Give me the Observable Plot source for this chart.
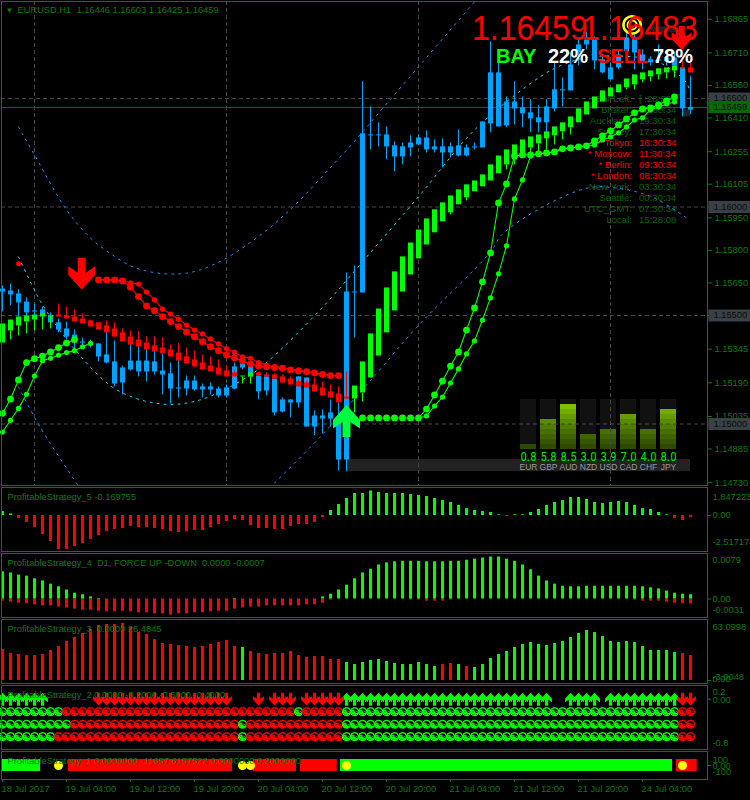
<!DOCTYPE html>
<html><head><meta charset="utf-8">
<script src="https://cdn.jsdelivr.net/npm/d3@7"></script>
<script src="https://cdn.jsdelivr.net/npm/@observablehq/plot@0.6"></script>
<style>
html,body{margin:0;padding:0;background:#000;overflow:hidden}
#root{position:relative;width:750px;height:800px;background:#000;overflow:hidden;font-family:"Liberation Sans",Arial,sans-serif}
#root svg{position:absolute;background:transparent}
.t{position:absolute;white-space:pre;line-height:1}
#clock{position:absolute;left:560px;top:92.5px;width:130px;font-size:9.6px;line-height:11px}
#clock div{display:grid;grid-template-columns:72px 50px;column-gap:7px;height:11px}
#clock span:first-child{text-align:right}
</style></head><body><div id="root"></div>
<script>
// ---------- data: prices in points (1e-5) ----------
const bars = d3.range(87);
const blueOpen=[115622,115613,115599,115562,115521,115526,115498,115466,115438,115410,115378,115373,115369,115318,115286,115258,115290,115290,115290,115286,115244,115231,115166,115198,115198,115171,115171,115161,115166,115263,115281,115272,115221,115217,115207,115111,115111,115217,115212,115037,115037,115051,115032,115608,115608,116337,116332,116332,116332,116282,116277,116295,116318,116318,116277,116277,116277,116282,116272,116277,116392,116618,116618,116484,116484,116457,116434,116411,116461,116540,116540,116655,116747,116779,116775,116678,116641,116701,116779,116779,116701,116678,116678,116687,116687,116641,116459];
const blueClose=[115608,115595,115558,115512,115516,115502,115466,115433,115401,115373,115373,115360,115309,115281,115184,115189,115249,115240,115240,115240,115226,115161,115161,115161,115157,115157,115157,115129,115129,115161,115258,115217,115148,115152,115051,115055,115097,115097,114986,114986,115023,115023,114834,114834,115604,115604,116328,116328,116277,116231,116231,116272,116286,116263,116263,116249,116249,116235,116235,116272,116272,116383,116369,116374,116452,116429,116406,116388,116388,116452,116535,116535,116710,116747,116673,116618,116586,116641,116715,116710,116664,116664,116673,116669,116650,116452,116446];
const blueHigh=[115636,115645,115618,115581,115553,115539,115512,115484,115470,115433,115396,115387,115369,115433,115383,115267,115424,115424,115401,115401,115396,115281,115369,115221,115221,115184,115189,115171,115180,115281,115290,115286,115235,115235,115217,115120,115111,115217,115212,115060,115065,115111,115111,115696,115728,116577,116461,116388,116369,116300,116295,116328,116332,116351,116309,116314,116295,116355,116286,116295,116392,116761,116664,116507,116577,116507,116494,116466,116494,116664,116595,116710,116770,116803,116784,116701,116664,116724,116816,116793,116724,116692,116747,116696,116710,116669,116603];
const blueLow=[115516,115544,115493,115493,115493,115479,115452,115420,115387,115332,115355,115350,115286,115277,115171,115134,115244,115217,115194,115226,115134,115092,115120,115129,115152,115120,115134,115120,115120,115157,115249,115212,115111,115129,115037,115051,115028,115074,114986,114945,114954,114986,114783,114779,115396,115604,116263,116277,116217,116162,116194,116231,116282,116249,116249,116180,116226,116231,116231,116263,116272,116342,116369,116365,116378,116365,116342,116342,116263,116438,116461,116535,116650,116724,116632,116614,116586,116632,116678,116632,116632,116650,116664,116650,116623,116415,116425];

const haTop=[115461,115479,115493,115498,115502,115507,115498,115502,115498,115493,115484,115475,115466,115452,115438,115420,115401,115387,115373,115360,115350,115341,115327,115309,115295,115281,115267,115258,115244,115235,115221,115235,115235,115226,115226,115217,115207,115194,115189,115180,115166,115148,115138,115124,115175,115286,115415,115530,115627,115701,115770,115834,115894,115945,115987,116019,116051,116079,116102,116120,116148,116194,116235,116263,116286,116309,116323,116332,116346,116369,116388,116415,116452,116484,116507,116535,116549,116563,116590,116609,116618,116627,116637,116641,116650,116641,116641];
const haBottom=[115373,115429,115452,115470,115479,115493,115493,115493,115484,115470,115461,115447,115433,115420,115401,115378,115364,115355,115341,115332,115323,115309,115290,115277,115263,115249,115240,115226,115217,115217,115217,115217,115221,115217,115207,115189,115180,115171,115166,115148,115129,115120,115097,115115,115115,115143,115212,115313,115420,115521,115608,115687,115761,115825,115881,115931,115973,116010,116042,116070,116093,116120,116153,116194,116217,116245,116272,116291,116314,116328,116346,116365,116388,116424,116452,116484,116507,116526,116549,116563,116586,116600,116609,116618,116627,116637,116618];
const haWick=[115373,115387,115406,115415,115429,115433,115438,115553,115539,115526,115507,115479,115466,115475,115466,115438,115429,115424,115401,115401,115396,115364,115369,115350,115337,115318,115309,115295,115267,115244,115184,115184,115240,115235,115231,115226,115217,115203,115198,115212,115194,115180,115171,115240,115051,115101,115212,115313,115420,115521,115608,115687,115761,115825,115881,115931,115964,116010,116028,116070,116093,116120,116153,116171,116194,116245,116226,116254,116263,116286,116309,116332,116388,116424,116452,116484,116507,116526,116540,116540,116572,116577,116586,116590,116595,116687,116678];
const haRuns=[[7,"g"],[23,"r"],[2,"g"],[12,"r"],[41,"g"],[2,"r"]];

const redBigStart=12, redBig=[115664,115664,115664,115659,115630,115587,115544,115522,115495,115472,115449,115424,115402,115379,115356,115338,115318,115304,115290,115277,115267,115264,115260,115257,115249,115244,115241,115236,115229,115223,115223];
const redSmallStart=12, redSmall=[115667,115664,115662,115659,115651,115645,115608,115572,115529,115507,115483,115456,115433,115415,115392,115369,115347,115331,115310,115303,115283,115272,115264,115260,115252,115249,115243,115234,115226,115223,115223];
const greenBigLeft=[115049,115115,115203,115283,115301,115313,115332,115352,115373,115389];
const greenSmallLeft=[114963,115017,115072,115137,115221,115292,115303,115317,115329,115338,115356,115372];
const greenBigStart=45, greenBig=[115028,115028,115028,115028,115028,115028,115028,115028,115069,115134,115198,115267,115332,115433,115535,115655,115788,116019,116106,116235,116240,116240,116245,116249,116254,116268,116272,116277,116282,116305,116328,116351,116378,116406,116434,116452,116457,116471,116489,116507];
const greenSmallStart=52, greenSmall=[115028,115037,115083,115124,115189,115254,115323,115383,115479,115581,115692,115821,116037,116125,116235,116245,116249,116254,116268,116272,116277,116282,116286,116309,116323,116342,116369,116401,116411,116448,116461,116475,116484];

const upperBar=[2,4,8,11,13.4,16.3,19.3,22.2,24.7,28,32.6,36.3,41.3,44.7,46.6,52,59];
const upperBand=[116369,116240,115987,115857,115788,115724,115696,115692,115710,115765,115881,116000,116194,116332,116415,116646,116945];
const middleBar=[2,3.8,5,9.3,14.3,20,24.7,30.6,33.1,39.7,46.6,52.4,59,67,70,73.7,81.2,84,85.5,86];
const middleBand=[115770,115632,115549,115332,115157,115092,115111,115217,115286,115526,115816,116065,116355,116595,116655,116692,116678,116623,116572,116526];
const lowerBarA=[2,4.7,9.4], lowerBandA=[115171,114986,114719];
const lowerBarB=[34,39.7,46.6,51.8,61,62.4,67.5,73.2,76.6,81.2,85.5];
const lowerBandB=[114728,114940,115226,115447,115793,115871,116000,116088,116088,116046,115950];

const priceTicks=[1.16865,1.1671,1.1656,1.1641,1.16255,1.16105,1.1595,1.158,1.1565,1.15345,1.1519,1.15035,1.14885,1.1473];
const gridLevels=[1.165,1.16,1.155,1.15];
const gridBars=[4,28,52,76];
const lastPrice=1.16459;
const shadeBarFrom=[81,85.1], shadeBarTo=[84.5,86], shadeTop=[116830,116448], shadeBottom=[116803,116415];

const hist5=[.29,.12,-.22,-.51,-.88,-1.4,-1.91,-2.5,-2.5,-2.28,-2.06,-1.76,-1.47,-1.18,-1.03,-.96,-.81,-.88,-.88,-.96,-1.03,-1.18,-1.25,-1.18,-1.1,-1.1,-.88,-.66,-.44,-.29,-.37,-.74,-.96,-.96,-1.03,-1.03,-.81,-.66,-.66,-.51,-.15,.37,.81,1.25,1.62,1.62,1.8,1.69,1.62,1.62,1.62,1.54,1.47,1.4,1.25,1.1,.96,.74,.51,.37,.29,.22,.05,-.07,.05,.05,.22,.44,.74,.96,1.1,1.32,1.32,1.18,.96,.88,.96,1.03,.96,.74,.51,.44,.22,.05,-.22,-.37,-.17];
const hist4Up=[.0051,.0049,.0045,.0043,.0038,.0034,.0028,.0023,.0017,.0011,.0008,.0004,.0001,0,0,0,0,0,0,0,0,0,0,0,0,0,0,0,0,.0001,0,0,0,0,0,0,0,0,0,0,.0004,.0009,.0017,.0026,.0038,.0049,.0056,.0064,.0068,.007,.0071,.0071,.0071,.007,.007,.007,.0071,.0071,.0073,.0075,.0077,.0079,.0079,.0075,.0071,.0064,.0055,.0043,.0034,.0028,.0024,.0023,.0023,.0024,.0024,.0024,.0024,.0024,.0024,.0024,.0023,.0021,.0019,.0015,.0011,.0009,.0008];
const hist4Down=[-.0004,-.0006,-.0008,-.0009,-.0011,-.0013,-.0013,-.0015,-.0017,-.0019,-.0021,-.0021,-.0023,-.0024,-.0024,-.0023,-.0024,-.0026,-.0026,-.0028,-.0028,-.003,-.0028,-.0028,-.0026,-.0026,-.0024,-.0023,-.0023,-.0019,-.0017,-.0015,-.0015,-.0013,-.0013,-.0013,-.0013,-.0013,-.0011,-.0011,-.0008,-.0002,0,0,0,0,0,0,0,0,0,-.0002,-.0002,-.0004,-.0004,-.0004,-.0002,0,0,0,0,0,0,0,0,0,0,0,0,0,0,0,0,0,0,0,0,0,0,-.0002,-.0004,-.0004,-.0004,-.0006,-.0008,-.0009,-.0009];
const hist3=[34.3,29.8,28.7,27.6,27.6,28.7,33.2,37.6,43.1,47.5,51.9,56.4,60.8,61.9,61.9,63.1,58.6,53,50.8,45.3,40.9,39.8,38.7,37.6,36.5,37.6,39.8,42,44.2,37.6,36.5,32,29.8,28.7,29.8,29.8,32,27.6,25.4,26.5,26.5,23.2,23.2,19.9,17.7,19.9,22.1,23.2,21,18.8,17.7,17.7,19.9,17.7,15.5,17.7,18.8,17.7,15.5,14.4,17.7,24.3,28.7,32,36.5,39.8,42,39.8,38.7,40.9,43.1,47.5,51.9,55.3,53,48.6,43.1,42,43.1,42,37.6,33.2,33.2,33.2,30.9,29.8,27.6];
const hist3Runs=[[30,"r"],[1,"g"],[12,"r"],[12,"g"],[2,"r"],[1,"g"],[1,"r"],[26,"g"],[2,"r"]];

const signalRows=[-.2,-.4,-.6];
const signalRuns=[
  [[8,"g"],[29,"r"],[1,"g"],[5,"r"],[42,"g"],[2,"r"]],
  [[9,"g"],[21,"r"],[1,"g"],[12,"r"],[42,"g"],[2,"r"]],
  [[7,"g"],[23,"r"],[1,"g"],[12,"r"],[42,"g"],[2,"r"]]];
const upRanges=[[0,5],[43,68],[71,74],[76,84]];
const downRanges=[[12,28],[32,32],[34,36],[38,42],[85,86]];

const segStart=[0,8.25,31.375,37.25,42.25,84.25];
const segEnd=[4.75,28.75,36.75,41.84,83.75,86.84];
const segColor=["g","r","r","r","g","r"];
const coinBars=[7,30,31,43,85];

const timeBars=[0,8,16,24,32,40,48,56,64,72,80];
const timeLabels=["18 Jul 2017","19 Jul 04:00","19 Jul 12:00","19 Jul 20:00","20 Jul 04:00","20 Jul 12:00","20 Jul 20:00","21 Jul 04:00","21 Jul 12:00","21 Jul 20:00","24 Jul 04:00"];

const currencies=["EUR","GBP","AUD","NZD","USD","CAD","CHF","JPY"];
const strength=[0.8,5.8,8.5,3.0,3.9,7.0,4.0,8.0];
const levelColors=["#2f4a00","#375600","#3f6300","#477000","#507d00","#5a8c00","#669c00","#72ad00","#80c000","#90d800"];

const clockNames=["Bar Left:","Broker:","Auckland:","Sydney:","* Tokyo:","* Moscow:","* Berlin:","* London:","New York:","Seattle:","UTC_GMT:","Local:"];
const clockTimes=["[ :28:28 ]","10:30:34","19:30:34","17:30:34","16:30:34","11:30:34","09:30:34","08:30:34","03:30:34","00:30:34","07:30:34","15:28:08"];

// ---------- styling ----------
const GREEN="#00ff00", RED="#ff0000", BLUE="#00a2ff", LINE="#0d7a0d", INK="#0c7a0c";
const FONT='"Liberation Sans",Arial,sans-serif';
const hue=c=>c==="g"?GREEN:RED;
const expand=runs=>runs.flatMap(([n,c])=>Array(n).fill(c));
const price=p=>p/1e5;
const root=document.getElementById("root");
const arrowShape=dir=>({draw(ctx,size){
  const r=Math.sqrt(size/Math.PI)/16*dir;
  const pts=[[-4,-16],[4,-16],[4,-1],[13.5,-7.5],[13.5,1],[0,16],[-13.5,1],[-13.5,-7.5],[-4,-1]];
  pts.forEach(([x,y],i)=>i?ctx.lineTo(x*r,y*r):ctx.moveTo(x*r,y*r));
  ctx.closePath();
}});
const DOWN=arrowShape(1), UP=arrowShape(-1);
const series=(start,vals)=>vals.map((v,k)=>({i:start+k,p:price(v)}));
const xy=(xs,vals)=>vals.map((v,k)=>({i:xs[k],p:price(v)}));
const barX={domain:[-0.125,88.125],axis:null};
function place(svg,top,left=0){svg.style.top=top+"px";svg.style.left=left+"px";root.appendChild(svg);return svg;}
function pane(top,height,yDomain,marks,marginBottom=1){
  return place(Plot.plot({width:750,height,marginLeft:1,marginRight:43,marginTop:0,marginBottom,
    x:barX,y:{domain:yDomain,axis:null},color:{type:"identity"},
    style:{fontFamily:FONT,fontSize:"9.3px",background:"transparent"},marks:[...marks,Plot.frame({stroke:LINE})]}),top);
}
const title=(s,dy=9.5)=>Plot.text([s],{text:d=>d,frameAnchor:"top-left",lineAnchor:"middle",dx:6,dy,textAnchor:"start",fill:INK});
const sideLabels=ls=>ls.map(([s,v,dy])=>Plot.text([s],{text:d=>d,y:()=>v,frameAnchor:"right",dx:5,dy,textAnchor:"start",fill:INK}));
const zeroTick=(v=0)=>Plot.axisY([v],{anchor:"right",tickSize:3,tickFormat:()=>"",color:LINE,label:null});
const hist=(vals,colors,w=3)=>Plot.ruleX(vals.map((v,i)=>({i,v,c:colors(i,v)})).filter(d=>d.v!==0),{x:"i",y1:()=>0,y2:"v",stroke:"c",strokeWidth:w});

// ---------- layers below the price chart ----------
function addText(s,css){const d=document.createElement("div");d.className="t";d.textContent=s;Object.assign(d.style,css);root.appendChild(d);return d;}
const clock=document.createElement("div");clock.id="clock";
clockNames.forEach((n,k)=>{
  const r=document.createElement("div");
  r.style.color=n.startsWith("*")?RED:"#0a600a";
  const a=document.createElement("span");a.textContent=n;
  const b=document.createElement("span");b.textContent=clockTimes[k];
  r.append(a,b);clock.appendChild(r);
});
root.appendChild(clock);
addText("",{left:"347px",top:"459px",width:"343px",height:"12px",background:"#222"});

// currency strength widget
const segs=currencies.flatMap((c,k)=>d3.range(Math.round(strength[k])).map(l=>({c,l})));
place(Plot.plot({width:160,height:74,marginLeft:0,marginRight:0,marginTop:0,marginBottom:24,
  x:{domain:currencies,paddingInner:.2,paddingOuter:.1,axis:null},y:{domain:[0,10],axis:null},color:{type:"identity"},
  style:{fontFamily:FONT,background:"transparent"},
  marks:[
    Plot.barY(currencies,{x:d=>d,y1:()=>0,y2:()=>10,fill:"#111"}),
    Plot.barY(segs,{x:"c",y1:"l",y2:d=>d.l+1,fill:d=>levelColors[d.l]}),
    Plot.text(currencies,{x:d=>d,frameAnchor:"bottom",lineAnchor:"middle",dy:7,text:(d,k)=>strength[k].toFixed(1),fill:"#00e000",fontSize:13,fontFamily:'"Liberation Sans Narrow","Roboto Condensed","Liberation Sans"'}),
    Plot.text(currencies,{x:d=>d,frameAnchor:"bottom",lineAnchor:"middle",dy:18,fill:"#9a9a9a",fontSize:8.5})
  ]}),399,518);

// ---------- price chart ----------
const blue=bars.map(i=>({i,o:price(blueOpen[i]),c:price(blueClose[i]),h:price(blueHigh[i]),l:price(blueLow[i])}));
const haC=expand(haRuns);
const ha=bars.map(i=>({i,t:price(haTop[i]),b:price(haBottom[i]),w:price(haWick[i]),c:hue(haC[i])}));
const lineDots=(d,color,r)=>[Plot.line(d,{x:"i",y:"p",stroke:color,strokeWidth:1.1}),Plot.dot(d,{x:"i",y:"p",r,fill:color,stroke:null})];
const band=(d,color)=>Plot.line(d,{x:"i",y:"p",stroke:color,strokeWidth:1,strokeDasharray:"2 5",curve:"catmull-rom",clip:true});

place(Plot.plot({width:750,height:486,marginLeft:1,marginRight:43,marginTop:1,marginBottom:1,
  x:barX,y:{domain:[1.16947,1.147166],range:[1,485],axis:null},color:{type:"identity"},
  style:{fontFamily:FONT,fontSize:"9.3px",background:"transparent"},
  marks:[
    Plot.gridY(gridLevels,{y:d=>d,stroke:"#474747",strokeOpacity:1,strokeDasharray:"4 3"}),
    Plot.gridX(gridBars,{x:d=>d,stroke:"#474747",strokeOpacity:1,strokeDasharray:"4 3"}),
    Plot.ruleY([lastPrice],{stroke:"#0c6e0c"}),
    Plot.rect(shadeBarFrom,{x1:d=>d,x2:(d,k)=>shadeBarTo[k],y1:(d,k)=>price(shadeTop[k]),y2:(d,k)=>price(shadeBottom[k]),fill:"#222"}),
    band(xy(upperBar,upperBand),"#1e90ff"),
    band(xy(middleBar,middleBand),"#22ddff"),
    band(xy(lowerBarA,lowerBandA),"#1e90ff"),
    band(xy(lowerBarB,lowerBandB),"#1e90ff"),
    Plot.ruleX(blue,{x:"i",y1:"l",y2:"h",stroke:BLUE,strokeWidth:1}),
    Plot.ruleX(blue,{x:"i",y1:"o",y2:"c",stroke:BLUE,strokeWidth:5}),
    Plot.ruleX(ha,{x:"i",y1:"b",y2:"w",stroke:"c",strokeWidth:1}),
    Plot.ruleX(ha,{x:"i",y1:"t",y2:"b",stroke:"c",strokeWidth:5}),
    ...lineDots(series(redSmallStart,redSmall),RED,2.6),
    ...lineDots(series(redBigStart,redBig),RED,3.4),
    Plot.dot([{i:2,p:price(115738)}],{x:"i",y:"p",r:2.5,fill:RED,stroke:null}),
    ...lineDots(series(0,greenSmallLeft),GREEN,2.6),
    ...lineDots(series(0,greenBigLeft),GREEN,3.4),
    ...lineDots(series(greenSmallStart,greenSmall),GREEN,2.6),
    ...lineDots(series(greenBigStart,greenBig),GREEN,3.4),
    Plot.dot([{i:9.9,p:price(115692)}],{x:"i",y:"p",r:16,symbol:DOWN,fill:RED,stroke:null}),
    Plot.dot([{i:43,p:price(115014)}],{x:"i",y:"p",r:16,symbol:UP,fill:"#00ff40",stroke:null}),
    Plot.dot([{i:84.9,p:price(116779)}],{x:"i",y:"p",r:12,symbol:DOWN,fill:RED,stroke:null}),
    Plot.dot([{i:78.7,p:price(116839)}],{x:"i",y:"p",r:8.7,stroke:"#ffff00",strokeWidth:2.6,fill:null}),
    Plot.dot([{i:78.7,p:price(116839)}],{x:"i",y:"p",r:4.5,stroke:"#ffff00",strokeWidth:2,fill:null}),
    Plot.axisY(priceTicks,{anchor:"right",tickSize:4,tickPadding:3,tickFormat:d=>d.toFixed(5),color:INK,label:null}),
    Plot.axisY(gridLevels,{anchor:"right",tickSize:4,tickFormat:()=>"",color:LINE,label:null}),
    Plot.ruleY(gridLevels,{y:d=>d,x1:()=>88.3,x2:()=>94,stroke:"#3a4046",strokeWidth:12}),
    Plot.ruleY([lastPrice],{y:d=>d,x1:()=>88.3,x2:()=>94,stroke:"#086808",strokeWidth:11}),
    Plot.text([...gridLevels,lastPrice],{y:d=>d,frameAnchor:"right",dx:6,textAnchor:"start",text:d=>d.toFixed(5),fill:"#0a0f0a"}),
    Plot.text(["EURUSD,H1  1.16446 1.16603 1.16425 1.16459"],{text:d=>d,frameAnchor:"top-left",lineAnchor:"middle",dx:16,dy:9,textAnchor:"start",fill:INK}),
    Plot.text(["▼"],{text:d=>d,frameAnchor:"top-left",lineAnchor:"middle",dx:4,dy:9,textAnchor:"start",fill:INK,fontSize:8}),
    Plot.frame({stroke:LINE})
  ]}),0);

// ---------- indicator panes ----------
pane(487,65,[-2.647,2.059],[
  hist(hist5,(i,v)=>v>=0?GREEN:RED),
  zeroTick(),
  ...sideLabels([["1.847223",1.847,6.5],["0.00",0,0],["-2.517174",-2.517,-8]]),
  title("ProfitableStrategy_5 -0.169755")]);
pane(553,65,[-.00348,.00856],[
  hist(hist4Down,()=>RED),
  hist(hist4Up,()=>GREEN),
  zeroTick(),
  ...sideLabels([["0.0079",.0079,3.5],["0.00",0,0],["-0.0031",-.0031,-5]]),
  title("ProfitableStrategy_4  D1, FORCE UP -DOWN  0.0000 -0.0007")]);
const h3c=expand(hist3Runs);
pane(619,65,[-3.31,67.4],[
  hist(hist3,i=>hue(h3c[i])),
  zeroTick(),
  ...sideLabels([["63.0998",63.0998,3.7],["-3.0048",-3.0048,-6],["0.00",0,-1]]),
  title("ProfitableStrategy_3  0.0000 26.4845")]);
const expandRanges=rs=>rs.flatMap(([a,b])=>d3.range(a,b+1));
const glyphs=signalRows.flatMap((v,r)=>{const c=expand(signalRuns[r]);return bars.map(i=>({i,v,c:hue(c[i])}));});
pane(685,65,[-.805,.219],[
  Plot.dot(glyphs,{x:"i",y:"v",r:3.9,fill:"#000",stroke:"c",strokeWidth:1.3}),
  Plot.text(glyphs,{x:"i",y:"v",text:()=>"☯",fill:"c",fontSize:10.5,fontFamily:"DejaVu Sans"}),
  Plot.dot(expandRanges(upRanges),{x:d=>d,y:()=>0,r:6.5,symbol:UP,fill:GREEN,stroke:null}),
  Plot.dot(expandRanges(downRanges),{x:d=>d,y:()=>0,r:6.5,symbol:DOWN,fill:RED,stroke:null}),
  zeroTick(),
  ...sideLabels([["0.2",.2,5],["0.00",0,1],["-0.8",-.8,-6]]),
  title("ProfitableStrategy_2 0.0000 -0.2000 -0.6000 -0.4000",10)]);
pane(751,49,[-233,233],[
  Plot.rect(segStart,{x1:d=>d,x2:(d,k)=>segEnd[k],y1:()=>-100,y2:()=>100,fill:(d,k)=>hue(segColor[k])}),
  Plot.dot(coinBars,{x:d=>d,y:()=>0,r:4.5,fill:"#ffff00",stroke:null}),
  Plot.axisX(timeBars,{anchor:"bottom",tickSize:3,tickFormat:()=>"",color:LINE,label:null}),
  Plot.text(timeBars,{x:d=>d,text:(d,k)=>timeLabels[k],frameAnchor:"bottom",lineAnchor:"middle",dy:10,dx:-1,textAnchor:"start",fill:INK}),
  zeroTick(),
  ...sideLabels([["100",100,1],["0.00",0,1],["-100",-100,1]]),
  title("ProfitableStrategy_1 0.0000000 -11657.6157522 0.0000000 0.2000000")],21);

// ---------- overlay text ----------
const bigNumber={top:"11px",fontSize:"32px",color:RED,transform:"scaleY(1.08)",transformOrigin:"top left"};
addText("1.16459",{left:"472px",...bigNumber});
addText("1.16483",{left:"582px",...bigNumber});
addText("BAY",{left:"496px",top:"46px",fontSize:"20px",fontWeight:"bold",color:GREEN});
addText("22%",{left:"548px",top:"46px",fontSize:"20px",fontWeight:"bold",color:"#fff"});
addText("SELL",{left:"597px",top:"46px",fontSize:"20px",fontWeight:"bold",color:RED});
addText("78%",{left:"653px",top:"46px",fontSize:"20px",fontWeight:"bold",color:"#fff"});
</script></body></html>
